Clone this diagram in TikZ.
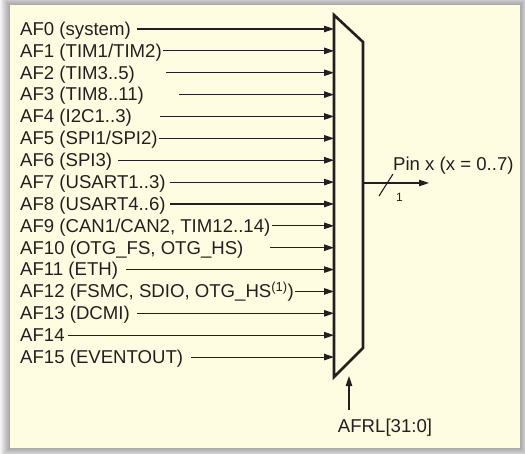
\documentclass[tikz,border=0pt]{standalone}
\usepackage{fontspec}
\setmainfont{Liberation Sans}
\usetikzlibrary{arrows.meta}
\definecolor{panel}{HTML}{FFFDE1}
\definecolor{ink}{HTML}{231F20}
\tikzset{
  lbl/.style={anchor=base west, inner sep=0pt, font=\fontsize{18.6}{20}\selectfont, text=ink},
  inarrow/.style={draw=ink, line width=1.1pt, -{Triangle[length=10pt,width=6.5pt]}},
  muxbox/.style={draw=ink, line width=2.6pt, line join=miter},
}
\begin{document}
\begin{tikzpicture}[x=1pt,y=-1pt]
\useasboundingbox (0,0) rectangle (525,453);
% shadow
\foreach \i in {1,...,10}{
  \fill[black, opacity=0.04] (10-\i,5-\i) rectangle (520+\i,448+\i);
}
\fill[panel] (10,5) rectangle (520,448);
% mux
\draw[muxbox] (334,15) -- (363,42) -- (363,348) -- (334,377) -- cycle;
\coordinate (muxL) at (334,0);
\coordinate (muxR) at (363,0);
% inputs (flag 1: line starts right after the label)
\foreach \k/\txt/\sx/\abut in {
  0/{AF0 (system)}/137/0,
  1/{AF1 (TIM1/TIM2)}/165/1,
  2/{AF2 (TIM3..5)}/166/0,
  3/{AF3 (TIM8..11)}/179/0,
  4/{AF4 (I2C1..3)}/160/0,
  5/{AF5 (SPI1/SPI2)}/158/1,
  6/{AF6 (SPI3)}/118/0,
  7/{AF7 (USART1..3)}/170/0,
  8/{AF8 (USART4..6)}/170/0,
  9/{AF9 (CAN1/CAN2, TIM12..14)}/268/1,
  10/{AF10 (OTG\_FS, OTG\_HS)}/270/0,
  11/{AF11 (ETH)}/126/0,
  12/{AF12 (FSMC, SDIO, OTG\_HS\textsuperscript{(1)})}/294/1,
  13/{AF13 (DCMI)}/137/0,
  14/{AF14}/68/0,
  15/{AF15 (EVENTOUT)}/191/0}{
  \pgfmathsetmacro{\yy}{29+21.87*\k}
  \node[lbl] (af\k) at (20,\yy+6.3) {\txt};
  \ifnum\abut=1
    \coordinate (s\k) at ([xshift=1pt]af\k.east |- 0,\yy);
  \else
    \coordinate (s\k) at (\sx,\yy);
  \fi
  \draw[inarrow] (s\k) -- (s\k -| muxL);
}
% output
\coordinate (outS) at (363,183);
\coordinate (outE) at (429,183);
\draw[inarrow] (outS) -- (outE);
\coordinate (sl1) at (379,196);
\coordinate (sl2) at (393,174);
\draw[draw=ink, line width=1.1pt] (sl1) -- (sl2);
\node[lbl, font=\fontsize{12}{14}\selectfont] (one) at (396,201) {1};
\node[lbl] (pin) at (393,170) {Pin x (x = 0..7)};
% select
\node[lbl, anchor=base] (afrl) at (385,432) {AFRL[31:0]};
\coordinate (selS) at (349,410);
\coordinate (selE) at (349,376);
\draw[inarrow] (selS) -- (selE);
\end{tikzpicture}
\end{document}
